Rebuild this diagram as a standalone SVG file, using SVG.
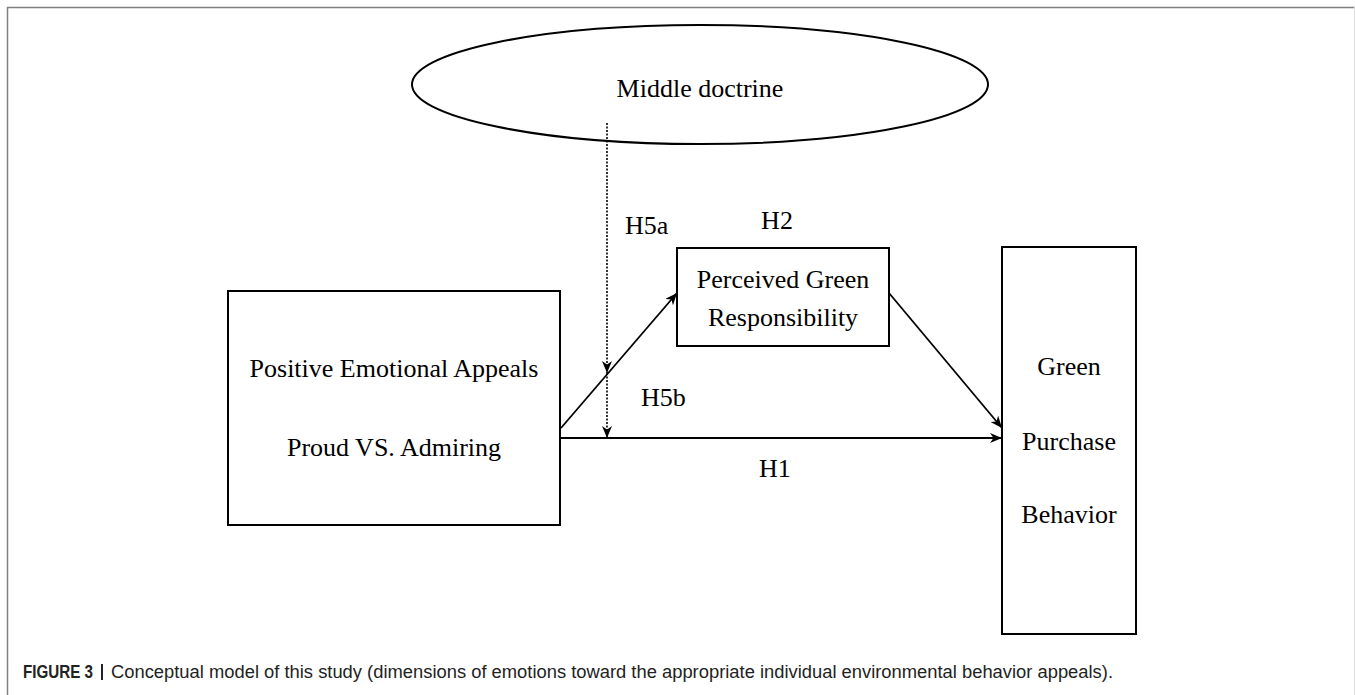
<svg xmlns="http://www.w3.org/2000/svg" width="1355" height="695" viewBox="0 0 1355 695">
<style>
.box{fill:none;stroke:#000;stroke-width:2}
.t{font-family:"Liberation Serif","Times New Roman",serif;font-size:26px;fill:#000}
.c{stroke:#000;stroke-width:1.8;fill:none}
.d{stroke:#000;stroke-width:1.6;fill:none;stroke-dasharray:2,1.5}
.cap{font-family:"Liberation Sans",Arial,sans-serif;font-size:17.5px;fill:#222}
</style>
<defs>
<marker id="ah" viewBox="0 0 12 10" refX="12" refY="5" markerWidth="12" markerHeight="10" markerUnits="userSpaceOnUse" orient="auto">
<path d="M0,0 L12,5 L0,10 L3.5,5 z" fill="#000"/>
</marker>
</defs>
<rect x="0" y="0" width="1355" height="695" fill="#fff"/>
<g id="frame">
<line x1="7" y1="7.5" x2="1355" y2="7.5" stroke="#808080" stroke-width="1.5"/>
<line x1="7.5" y1="7" x2="7.5" y2="695" stroke="#808080" stroke-width="1.5"/>
<line x1="1354.5" y1="7" x2="1354.5" y2="695" stroke="#e0e0e0" stroke-width="1"/>
</g>
<g id="middle-doctrine">
<ellipse class="box" cx="700" cy="84.5" rx="288" ry="59.5"/>
<text class="t" x="700" y="97" text-anchor="middle">Middle doctrine</text>
</g>
<g id="positive-appeals">
<rect class="box" x="228" y="291" width="332" height="234"/>
<text class="t" x="394" y="377" text-anchor="middle">Positive Emotional Appeals</text>
<text class="t" x="394" y="456" text-anchor="middle">Proud VS. Admiring</text>
</g>
<g id="perceived-green">
<rect class="box" x="677" y="248" width="212" height="98"/>
<text class="t" x="783" y="288" text-anchor="middle">Perceived Green</text>
<text class="t" x="783" y="326" text-anchor="middle">Responsibility</text>
</g>
<g id="green-purchase">
<rect class="box" x="1002" y="247" width="134" height="387"/>
<text class="t" x="1069" y="375" text-anchor="middle">Green</text>
<text class="t" x="1069" y="450" text-anchor="middle">Purchase</text>
<text class="t" x="1069" y="523" text-anchor="middle">Behavior</text>
</g>
<g id="connectors">
<line class="c" x1="561" y1="428" x2="677" y2="293" marker-end="url(#ah)"/>
<line class="c" x1="889" y1="293" x2="1002" y2="428" marker-end="url(#ah)"/>
<line class="c" x1="561" y1="438" x2="1002" y2="438" marker-end="url(#ah)"/>
<line class="d" x1="607" y1="123" x2="607" y2="373" marker-end="url(#ah)"/>
<line class="d" x1="607" y1="373" x2="607" y2="438" marker-end="url(#ah)"/>
</g>
<g id="labels">
<text class="t" x="777" y="229" text-anchor="middle">H2</text>
<text class="t" x="625" y="234">H5a</text>
<text class="t" x="641" y="406">H5b</text>
<text class="t" x="759" y="477">H1</text>
</g>
<g id="caption">
<text class="cap" x="23" y="678" font-weight="bold" font-size="16" textLength="70" lengthAdjust="spacingAndGlyphs" fill="#000">FIGURE 3</text>
<rect x="101" y="664" width="2" height="16" fill="#222"/>
<text class="cap" x="111" y="678" textLength="1002" lengthAdjust="spacingAndGlyphs">Conceptual model of this study (dimensions of emotions toward the appropriate individual environmental behavior appeals).</text>
</g>
</svg>
